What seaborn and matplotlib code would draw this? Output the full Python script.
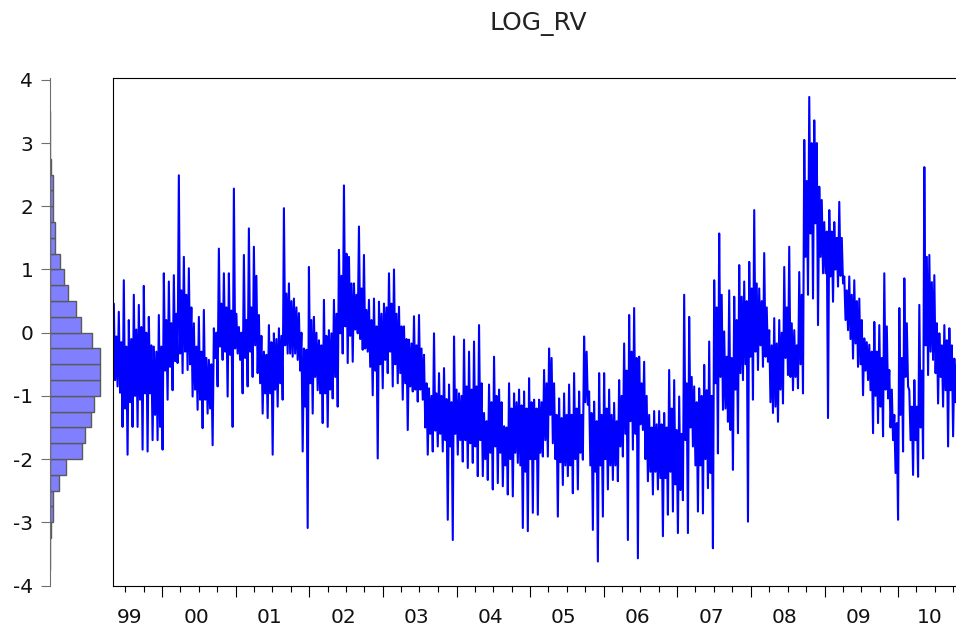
import numpy as np
import pandas as pd
import matplotlib
matplotlib.use("Agg")
import matplotlib.pyplot as plt
import matplotlib.dates as mdates
import matplotlib.ticker as mticker
import seaborn as sns

sns.set_style("ticks")
plt.rcParams["font.family"] = ["DejaVu Sans"]
plt.rcParams["axes.unicode_minus"] = False

# LOG_RV, about every 25 days:
# outer ends of the band (spikes) ...
peaks = [0.46, 0.33, 0.83, 0.20, 0.60, 0.44, 0.74, 0.25, -0.22, 0.28, 0.94, 0.81, 0.91, 2.49,
         1.20, 1.02, 0.15, 0.25, 0.36, -0.43, 0.07, 1.33, 0.94, 0.94, 2.28, 0.09, 1.23, 1.65,
         1.36, 0.28, -0.30, 0.12, -0.01, 0.07, 1.97, 0.78, 0.54, 0.31, -0.25, 1.04, 0.25, -0.12,
         0.52, 0.04, 0.52, 1.31, 2.33, 1.20, 0.78, 1.68, 1.23, 0.52, 0.54, 0.49, 0.46, 0.94,
         1.00, 0.41, 0.10, -0.11, 0.26, 0.28, -0.35, -0.88, -0.01, -0.64, -0.56, -0.82, -0.06, -0.96,
         -0.11, -0.30, -0.14, 0.12, -1.27, -0.82, -0.38, -0.90, -1.48, -0.80, -0.96, -0.90, -0.93, -0.72,
         -1.06, -1.06, -0.59, -0.25, -0.80, -1.04, -0.96, -0.82, -0.64, -0.93, -0.06, -0.93, -1.09, -0.64,
         -0.64, -0.90, -1.11, -0.75, -0.17, 0.28, 0.39, -0.38, -0.46, -1.30, -1.24, -1.24, -1.27, -0.59,
         -0.75, -1.01, 0.60, 0.25, -0.85, -0.88, -0.51, -0.14, 0.83, 1.57, 0.02, 0.67, 0.57, 1.07,
         0.81, 1.12, 1.94, 0.70, 1.26, 0.04, 0.23, 0.20, 1.04, 1.36, 0.04, 0.96, 3.05, 3.73,
         3.36, 2.31, 1.75, 1.94, 1.75, 2.07, 0.89, 0.89, 0.83, 0.54, -0.09, -0.19, 0.17, 0.12,
         0.94, -0.59, -1.30, 0.39, 0.86, -0.91, -0.75, 0.44, 2.62, 1.23, 0.91, -0.01, 0.12, 0.07,
         -0.41]
troughs = [-0.85, -1.49, -1.93, -1.49, -1.49, -1.85, -1.88, -1.70, -1.70, -1.85, -1.06, -0.91, -0.48, -0.64,
           -0.59, -1.01, -1.22, -1.51, -1.28, -1.78, -0.85, -0.43, -1.01, -1.49, -0.33, -0.96, -0.85, -0.70,
           -0.64, -1.28, -1.35, -1.93, -1.17, -1.06, -0.33, -0.38, -0.43, -1.88, -3.09, -1.28, -0.91, -1.43,
           -1.49, -1.04, -1.17, -0.33, -0.48, -0.46, -0.01, -0.27, -0.30, -0.99, -1.99, -0.88, -0.64, -0.85,
           -0.80, -1.06, -1.54, -0.93, -1.09, -1.06, -1.93, -1.88, -1.80, -1.88, -2.96, -3.28, -1.93, -2.04,
           -2.14, -2.06, -2.27, -2.27, -2.33, -2.48, -2.38, -2.43, -2.56, -2.59, -2.06, -3.09, -3.14, -2.85,
           -2.88, -1.96, -1.96, -1.75, -2.91, -2.41, -2.27, -2.54, -2.48, -2.01, -1.14, -3.12, -3.62, -2.91,
           -2.48, -2.33, -2.35, -1.96, -3.28, -1.85, -3.57, -1.54, -2.35, -2.56, -2.48, -3.22, -2.88, -2.83,
           -3.17, -2.65, -3.17, -1.80, -2.83, -2.86, -2.46, -3.41, -1.91, -1.22, -1.41, -2.17, -1.59, -0.75,
           -2.99, -1.06, -0.59, -0.54, -0.46, -1.27, -1.41, -1.12, -0.67, -0.91, -0.88, -0.96, 0.60, 0.54,
           0.12, 0.94, -1.35, 0.49, 0.73, 0.78, 0.04, -0.41, -0.54, -0.99, -0.75, -1.59, -1.43, -1.64,
           -1.04, -1.70, -2.96, -1.88, -0.85, -2.25, -2.28, -1.99, -0.67, -0.43, -1.12, -1.17, -1.80, -1.64,
           -1.22]
# ... and the dense core of the band
core_top = [-0.06, -0.15, -0.22, -0.10, 0.05, 0.09, 0.00, -0.20, -0.30, -0.22, 0.20, 0.15, 0.30, 0.67,
            0.60, 0.40, -0.22, -0.30, -0.40, -0.50, 0.00, 0.46, 0.40, 0.35, 0.30, 0.00, 0.20, 0.40,
            0.90, -0.05, -0.35, -0.15, -0.10, -0.05, 0.62, 0.50, 0.40, 0.00, -0.27, 0.20, 0.00, -0.20,
            -0.05, -0.01, 0.30, 0.90, 1.25, 0.78, 0.60, 0.70, 0.36, 0.20, 0.10, 0.30, 0.40, 0.46,
            0.30, 0.10, -0.10, -0.17, -0.20, -0.25, -0.80, -1.00, -0.96, -1.00, -1.05, -1.10, -0.90, -1.00,
            -0.85, -0.90, -0.85, -0.80, -1.40, -1.10, -1.00, -1.10, -1.50, -1.20, -1.10, -1.15, -1.20, -1.10,
            -1.20, -1.10, -0.80, -0.40, -1.30, -1.35, -1.30, -1.30, -1.20, -1.30, -0.30, -1.27, -1.40, -1.30,
            -1.20, -1.30, -1.40, -1.00, -0.60, -0.30, -0.40, -0.80, -1.00, -1.50, -1.45, -1.45, -1.50, -1.20,
            -1.54, -1.60, -0.80, -0.70, -1.10, -1.00, -0.91, -1.00, 0.40, 0.60, -0.38, -0.40, 0.20, 0.57,
            0.50, 0.70, 0.78, 0.50, 0.40, -0.20, -0.17, 0.00, 0.40, 0.15, -0.20, 0.60, 2.40, 3.00,
            3.00, 2.10, 1.60, 1.60, 1.50, 1.50, 0.67, 0.60, 0.50, 0.20, -0.15, -0.30, -0.30, -0.40,
            0.10, -0.90, -1.43, -0.40, 0.15, -1.17, -1.17, -0.60, 1.20, 0.80, 0.15, -0.20, -0.12, -0.20,
            -0.50]
core_bottom = [-0.75, -0.95, -1.20, -1.10, -1.00, -1.06, -0.96, -0.96, -1.30, -1.49, -0.60, -0.54, -0.45, -0.33,
               -0.30, -0.50, -0.90, -1.06, -1.06, -1.20, -0.40, -0.22, -0.30, -0.35, -0.25, -0.43, -0.40, -0.30,
               -0.20, -0.80, -0.96, -0.96, -0.90, -0.80, -0.20, -0.33, -0.33, -0.60, -1.17, -0.80, -0.70, -0.96,
               -0.96, -0.90, -0.70, -0.01, 0.10, -0.05, 0.05, -0.10, -0.25, -0.54, -0.60, -0.50, -0.43, -0.30,
               -0.50, -0.64, -0.80, -0.85, -0.90, -0.90, -1.50, -1.60, -1.55, -1.60, -1.70, -1.80, -1.60, -1.70,
               -1.70, -1.75, -1.80, -1.70, -2.00, -1.90, -1.80, -1.90, -2.10, -2.00, -1.90, -2.10, -2.20, -2.00,
               -2.00, -1.90, -1.70, -1.30, -2.00, -2.05, -2.10, -2.10, -2.00, -1.90, -1.10, -2.10, -2.20, -2.10,
               -2.00, -2.10, -2.10, -1.80, -1.60, -1.40, -1.60, -1.45, -2.00, -2.20, -2.20, -2.30, -2.30, -2.20,
               -2.40, -2.49, -1.70, -1.50, -2.10, -2.10, -2.00, -2.22, -0.80, -0.70, -1.20, -1.54, -0.90, -0.64,
               -0.50, -0.38, -0.30, -0.20, -0.38, -1.10, -1.17, -0.90, -0.40, -0.70, -0.70, -0.50, 1.20, 1.57,
               1.73, 1.20, 0.94, 0.89, 1.00, 0.90, 0.20, -0.10, -0.17, -0.50, -0.60, -0.91, -1.00, -1.17,
               -0.90, -1.50, -2.22, -1.30, -0.70, -1.70, -1.70, -1.50, -0.20, -0.30, -0.64, -0.70, -0.91, -0.91,
               -1.10]

# histogram on the left, bins of 0.25
bin_lower = [-3.75, -3.5, -3.25, -3.0, -2.75, -2.5, -2.25, -2.0, -1.75, -1.5, -1.25, -1.0, -0.75, -0.5,
             -0.25, 0.0, 0.25, 0.5, 0.75, 1.0, 1.25, 1.5, 1.75, 2.0, 2.25, 2.5, 2.75, 3.0, 3.25]
bin_counts = [2, 2, 3, 19, 19, 52, 93, 184, 203, 236, 257, 290, 290, 290,
              245, 180, 149, 106, 83, 58, 29, 29, 19, 19, 19, 3, 2, 2, 2]

year_labels = ["99", "00", "01", "02", "03", "04", "05", "06", "07", "08", "09", "10"]
label_dates = ["1999-07-25", "2000-06-17", "2001-06-17", "2002-06-17", "2003-06-17", "2004-06-17",
               "2005-06-17", "2006-06-17", "2007-06-17", "2008-06-17", "2009-06-17", "2010-06-08"]

values = np.column_stack([peaks, core_bottom, core_top, troughs]).ravel()
dates = pd.date_range("1999-05-06", periods=len(values), freq="149h")
df = pd.DataFrame({"date": dates, "LOG_RV": values})

W, H = 956, 633
fig = plt.figure(figsize=(W / 100, H / 100), dpi=100)
bottom = (H - 585.5) / H
height = (585.5 - 78) / H
ax = fig.add_axes([113 / W, bottom, (962 - 113) / W, height])
axh = fig.add_axes([50 / W, bottom, 60 / W, height])

# main series
sns.lineplot(data=df, x="date", y="LOG_RV", ax=ax, color="#0000ff", lw=1.5, estimator=None)
ax.set_xlim(pd.Timestamp("1999-05-02"), pd.Timestamp("2010-11-14"))
ax.set_ylim(-4, 4.03)
ax.set_yticks([])
ax.set_xlabel("")
ax.set_ylabel("")
for s in ["top", "left", "bottom"]:
    ax.spines[s].set_color("black")
    ax.spines[s].set_linewidth(0.8)
ax.spines["right"].set_visible(False)
ax.xaxis.set_major_locator(mdates.YearLocator())
ax.xaxis.set_minor_locator(mdates.MonthLocator([4, 7, 10]))
ax.xaxis.set_major_formatter(mticker.NullFormatter())
ax.tick_params(axis="x", which="major", length=8, width=0.8, color="black", direction="out")
ax.tick_params(axis="x", which="minor", length=4.5, width=0.8, color="black", direction="out")
for d, lab in zip(label_dates, year_labels):
    ax.text(mdates.date2num(pd.Timestamp(d)), -0.063, lab, transform=ax.get_xaxis_transform(),
            ha="center", va="center", fontsize=14.5, color="#111111")

# histogram
edges = bin_lower + [bin_lower[-1] + 0.25]
centers = [b + 0.125 for b in bin_lower]
sns.histplot(y=centers, weights=bin_counts, bins=edges, ax=axh, color="#8080ff",
             edgecolor="#5a5a5a", linewidth=1, alpha=1)
axh.set_xlim(0, 348)
axh.set_ylim(-4, 4.03)
axh.set_yticks(range(-4, 5))
axh.set_xticks([])
axh.set_xlabel("")
axh.set_ylabel("")
for s in ["top", "right", "bottom"]:
    axh.spines[s].set_visible(False)
axh.spines["left"].set_color("#6e6e6e")
axh.spines["left"].set_linewidth(0.8)
axh.tick_params(axis="y", length=6.5, width=0.8, color="#6e6e6e", pad=5.5,
                labelsize=14.5, labelcolor="#111111")

fig.text(538 / W, 1 - 24 / H, "LOG_RV", ha="center", va="center", fontsize=18, color="#222222")

fig.savefig("out.png", dpi=100)
